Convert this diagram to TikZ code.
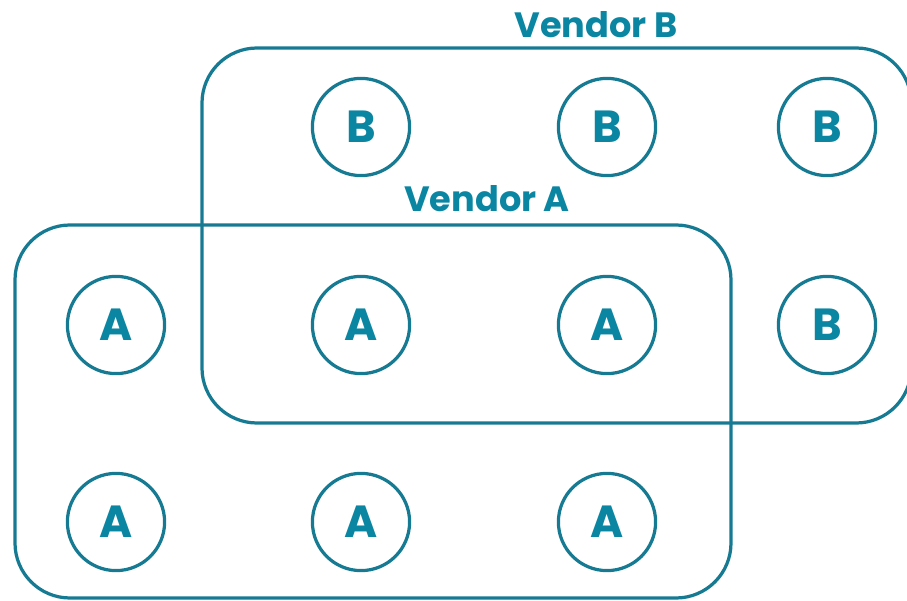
\documentclass[tikz,border=0pt]{standalone}
\usepackage{fontspec}
\setmainfont{Poppins}
\usepackage{xcolor}
\usetikzlibrary{positioning}
\definecolor{tealline}{HTML}{167B92}
\definecolor{tealtext}{HTML}{0B86A2}

\begin{document}
\begin{tikzpicture}[%
    every node/.style={%
      font=\bfseries,
      text=tealtext,
      text centered
    },
    chip/.style={%
      circle, draw=tealline, line width=2.3pt,
      minimum size=2.43cm, inner sep=0pt,
      font=\fontsize{32}{32}\selectfont\bfseries
    },
    vendor/.style={%
      anchor=base, inner sep=0pt,
      font=\fontsize{25}{25}\selectfont\bfseries
    },
    frame/.style={draw=tealline, line width=2.3pt, rounded corners=1.375cm}
  ]
  \useasboundingbox (0,0) rectangle (22.675,15);

  % Vendor frames
  \draw[frame] (5.05,4.425) rectangle (22.78,13.8);
  \draw[frame] (0.375,0.05) rectangle (18.275,9.375);

  \node[vendor] (lb) at (14.9,14.05) {Vendor B};
  \node[vendor] (la) at (12.175,9.7) {Vendor A};

  % Vendor B chips
  \node[chip] (b1) at (9.025,11.825) {B};
  \node[chip] (b2) at (15.175,11.825) {B};
  \node[chip] (b3) at (20.675,11.825) {B};
  \node[chip] (b4) at (20.675,6.875) {B};

  % Vendor A chips
  \node[chip] (a1) at (2.9,6.875) {A};
  \node[chip] (a2) at (9.025,6.875) {A};
  \node[chip] (a3) at (15.175,6.875) {A};
  \node[chip] (a4) at (2.9,1.95) {A};
  \node[chip] (a5) at (9.025,1.95) {A};
  \node[chip] (a6) at (15.175,1.95) {A};

\end{tikzpicture}
\end{document}
